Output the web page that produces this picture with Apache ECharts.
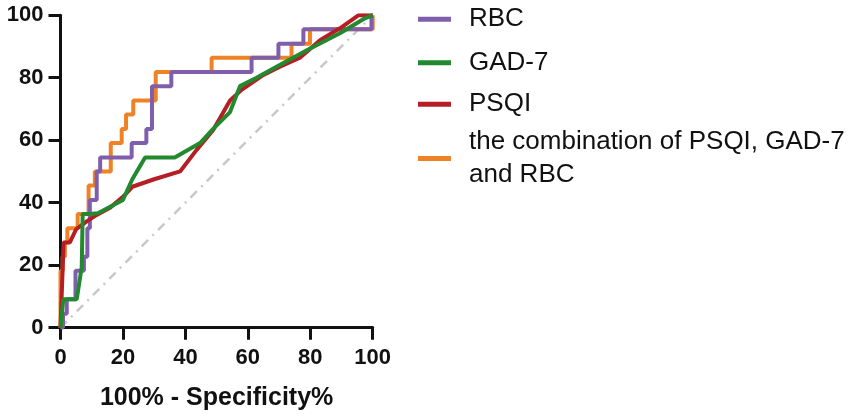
<!DOCTYPE html>
<html>
<head>
<meta charset="utf-8">
<script src="https://cdn.jsdelivr.net/npm/echarts@6/dist/echarts.min.js"></script>
<style>
html,body{margin:0;padding:0;background:#fff;}
#c{width:851px;height:419px;}
</style>
</head>
<body>
<div id="c"></div>
<script>
const xTicks = [0, 20, 40, 60, 80, 100];
const yTicks = [0, 20, 40, 60, 80, 100];
const seriesNames = ['RBC', 'GAD-7', 'PSQI', 'the combination of PSQI, GAD-7\nand RBC'];

const rbc = [[0,0],[0.8,0],[0.8,4.5],[2,4.5],[2,9.1],[4.8,9.1],[4.8,18.2],[7.5,18.2],[7.5,22.7],[8.6,22.7],[8.6,31.8],[9.4,31.8],[9.4,40.9],[11.6,40.9],[11.6,50],[12.7,50],[12.7,54.5],[22.8,54.5],[22.8,59.1],[27.5,59.1],[27.5,63.6],[29.3,63.6],[29.3,77.3],[35.5,77.3],[35.5,81.8],[61.2,81.8],[61.2,86.4],[69.8,86.4],[69.8,90.9],[77.8,90.9],[77.8,95.5],[99.6,95.5],[99.6,100],[100,100]];
const gad7 = [[0,0],[0.4,0],[0.9,9.1],[5.2,9.1],[6.8,19.5],[7.1,36.4],[9,36.4],[12,36.6],[20,40.9],[23,47.5],[27.1,54.5],[36.6,54.5],[44.7,59.1],[48.9,63.6],[54.3,69],[57.5,77.3],[62.8,80],[69.2,83.5],[78.9,88.8],[89.5,94.2],[97.5,99],[100,100]];
const psqi = [[0,0],[1,27.3],[3,27.3],[5,31.5],[8.4,34],[11.6,36.1],[16,38.5],[20,41.9],[23,45.1],[30,47.5],[38.3,50],[43.6,56.9],[48.9,63.3],[54.3,72.7],[58,76.1],[65,80.9],[70.3,83.5],[76.7,86.4],[83.1,92],[89.5,95.8],[95.5,100],[100,100]];
const combo = [[0,0],[0,18.2],[0.7,18.2],[0.7,22.7],[1.4,22.7],[1.4,27.3],[2.2,27.3],[2.2,31.8],[5.5,31.8],[5.5,36.4],[9,36.4],[9,45.5],[11,45.5],[11,50],[16.1,50],[16.1,59.1],[19.6,59.1],[19.6,63.6],[21,63.6],[21,68.2],[23.3,68.2],[23.3,72.7],[30.5,72.7],[30.5,81.8],[48.4,81.8],[48.4,86.4],[74,86.4],[74,90.9],[79.9,90.9],[79.9,95.5],[100,95.5],[100,100]];
const diagonal = [[0,0],[100,100]];

const colors = {rbc:'#7f5fab', gad:'#23892f', psqi:'#b41e24', combo:'#ee8224', diag:'#c8c8c8'};
const FONT = "'Liberation Sans', Arial, sans-serif";

const chart = echarts.init(document.getElementById('c'), null, {renderer:'canvas'});

function leg(name, top){
  return {
    data:[name], orient:'vertical', left:418, top:top, padding:0,
    icon:'rect', itemWidth:33, itemHeight:5,
    textStyle:{fontFamily:FONT, fontSize:26, color:'#111', lineHeight:32.5, padding:[0,0,0,13]}
  };
}

chart.setOption({
  backgroundColor:'#fff',
  animation:false,
  grid:{left:60.5, right:478.3, top:15.2, bottom:91.3, containLabel:false},
  legend:[leg(seriesNames[0],3), leg(seriesNames[1],46.5), leg(seriesNames[2],88), leg(seriesNames[3],126)],
  xAxis:{
    type:'value', min:xTicks[0], max:xTicks[xTicks.length-1], interval:20,
    name:'100% - Specificity%', nameLocation:'middle', nameGap:58,
    nameTextStyle:{fontFamily:FONT, fontSize:25, fontWeight:'bold', color:'#111'},
    axisLine:{show:true, onZero:false, lineStyle:{color:'#111', width:3}},
    axisTick:{show:true, length:12, lineStyle:{color:'#111', width:3}},
    axisLabel:{fontFamily:FONT, fontSize:22, fontWeight:'bold', color:'#111', margin:19},
    splitLine:{show:false}
  },
  yAxis:{
    type:'value', min:yTicks[0], max:yTicks[yTicks.length-1], interval:20,
    axisLine:{show:true, onZero:false, lineStyle:{color:'#111', width:3}},
    axisTick:{show:true, length:12, lineStyle:{color:'#111', width:3}},
    axisLabel:{fontFamily:FONT, fontSize:22, fontWeight:'bold', color:'#111', margin:17},
    splitLine:{show:false}
  },
  series:[
    {name:'ref', type:'line', data:diagonal, showSymbol:false, silent:true, z:1,
     lineStyle:{color:colors.diag, width:2.5, type:[9,6,2,6]}},
    {name:seriesNames[3], type:'line', data:combo, showSymbol:false, z:2,
     itemStyle:{color:colors.combo}, lineStyle:{color:colors.combo, width:4}},
    {name:seriesNames[0], type:'line', data:rbc, showSymbol:false, z:3,
     itemStyle:{color:colors.rbc}, lineStyle:{color:colors.rbc, width:4}},
    {name:seriesNames[2], type:'line', data:psqi, showSymbol:false, z:4,
     itemStyle:{color:colors.psqi}, lineStyle:{color:colors.psqi, width:4}},
    {name:seriesNames[1], type:'line', data:gad7, showSymbol:false, z:5,
     itemStyle:{color:colors.gad}, lineStyle:{color:colors.gad, width:4}}
  ]
});
</script>
</body>
</html>
